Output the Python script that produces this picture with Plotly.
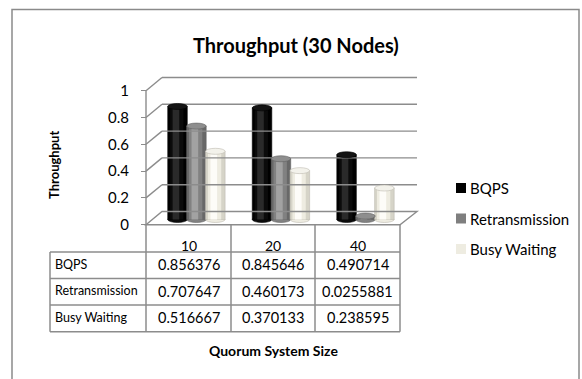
import plotly.graph_objects as go

# ---- data -------------------------------------------------------------
categories = ["10", "20", "40"]
series_names = ["BQPS", "Retransmission", "Busy Waiting"]
bqps = [0.856376, 0.845646, 0.490714]
retransmission = [0.707647, 0.460173, 0.0255881]
busy_waiting = [0.516667, 0.370133, 0.238595]
y_ticks = [0, 0.2, 0.4, 0.6, 0.8, 1]

series_values = [bqps, retransmission, busy_waiting]

# ---- styling ----------------------------------------------------------
W, H = 582, 379
FONT = "Lato"
GRID = "#8c8c8c"
swatch_colors = ["#000000", "#7f7f7f", "#eeece1"]
# cylinder shading: edge tone, mid tone, highlight
shade_colors = [
    ["#000000", "#0b0b0b", "#2a2a2a"],
    ["#686868", "#818181", "#a2a2a2"],
    ["#d6d4c8", "#eeece1", "#fdfcf8"],
]
shade_widths = [1.0, 0.68, 0.34]
top_colors = ["#141414", "#8e8e8e", "#f3f2eb"]
rim_colors = ["#000000", "#606060", "#bdbbb0"]

BAR_W = 0.231          # bar width in category units
BAR_STEP = 0.2237      # distance between neighbouring bars in a group
ELL = 3.0 / 132.0      # half-height of cylinder caps in value units
DEPTH = 0.0985         # back wall offset (front plane value units)

def px(x):
    return x / W

def py(y):
    return 1 - y / H

fig = go.Figure()

# cylinder bodies, drawn as nested strips for a rounded look
for k, (name, vals) in enumerate(zip(series_names, series_values)):
    for s, (frac, col) in enumerate(zip(shade_widths, shade_colors[k])):
        w = BAR_W * frac
        centre_shift = -0.12 * BAR_W * (1 - frac)
        fig.add_trace(go.Bar(
            x=categories, y=vals, name=name,
            width=w, offset=(k - 1) * BAR_STEP + centre_shift - w / 2,
            marker=dict(color=col,
                        line=dict(width=0.6 if s == 0 else 0, color=rim_colors[k])),
            showlegend=False, hoverinfo="skip" if s else None,
            xaxis="x", yaxis="y",
        ))

shapes = []

# back wall gridlines with their slanted connectors to the front axis
X_FRONT, X_BACK, X_RIGHT, X_FRONT_RIGHT = 146, 162, 417, 400
for t in y_ticks[1:]:
    shapes.append(dict(type="line", xref="x2", yref="y2", layer="below",
                       x0=X_FRONT, y0=t, x1=X_BACK, y1=t + DEPTH,
                       line=dict(color=GRID, width=1.4)))
    shapes.append(dict(type="line", xref="x2", yref="y2", layer="below",
                       x0=X_BACK, y0=t + DEPTH, x1=X_RIGHT, y1=t + DEPTH,
                       line=dict(color=GRID, width=1.4)))

# floor outline
shapes.append(dict(type="path", xref="x2", yref="y2", layer="below",
                   path=f"M{X_FRONT},0 L{X_BACK},{DEPTH} L{X_RIGHT},{DEPTH} L{X_FRONT_RIGHT},0 Z",
                   line=dict(color=GRID, width=1.4)))
# front vertical axis line
shapes.append(dict(type="line", xref="x2", yref="y2", layer="below",
                   x0=X_FRONT, y0=0, x1=X_FRONT, y1=1,
                   line=dict(color=GRID, width=1.4)))

# cylinder caps: rounded bottoms sit under the bodies, tops over them
for k, vals in enumerate(series_values):
    for i, v in enumerate(vals):
        c = i + (k - 1) * BAR_STEP
        shapes.append(dict(type="circle", xref="x", yref="y", layer="below",
                           x0=c - BAR_W / 2, x1=c + BAR_W / 2, y0=-ELL, y1=ELL,
                           fillcolor=shade_colors[k][1], line=dict(width=0.6, color=rim_colors[k])))
        shapes.append(dict(type="circle", xref="x", yref="y", layer="above",
                           x0=c - BAR_W / 2, x1=c + BAR_W / 2, y0=v - ELL, y1=v + ELL,
                           fillcolor=top_colors[k], line=dict(width=0.6, color=rim_colors[k])))

# ---- data table under the chart ---------------------------------------
col_edges = [50, 146, 231, 315, 400]
row_edges = [224.7, 252, 278.5, 305, 331.7]
line_tbl = dict(color=GRID, width=1.5)
for y in row_edges[1:]:
    shapes.append(dict(type="line", xref="paper", yref="paper",
                       x0=px(col_edges[0]), x1=px(col_edges[-1]), y0=py(y), y1=py(y), line=line_tbl))
shapes.append(dict(type="line", xref="paper", yref="paper",
                   x0=px(col_edges[0]), x1=px(col_edges[0]), y0=py(row_edges[1]), y1=py(row_edges[-1]),
                   line=line_tbl))
for x in col_edges[1:]:
    shapes.append(dict(type="line", xref="paper", yref="paper",
                       x0=px(x), x1=px(x), y0=py(row_edges[0]), y1=py(row_edges[-1]), line=line_tbl))

# outer chart frame
shapes.append(dict(type="rect", xref="paper", yref="paper",
                   x0=px(12), x1=px(579), y0=py(9.5), y1=py(395),
                   line=dict(color="#8a8a8a", width=1.5)))

annotations = []
col_centers = [(col_edges[j] + col_edges[j + 1]) / 2 for j in range(1, 4)]
for j, cat in enumerate(categories):
    annotations.append(dict(text=cat, x=px(col_centers[j]), y=py(245), xref="paper", yref="paper",
                            showarrow=False, xanchor="center", yanchor="middle",
                            font=dict(family=FONT, size=14, color="black")))
row_centers = [(row_edges[r] + row_edges[r + 1]) / 2 for r in range(1, 4)]
for r, (name, vals) in enumerate(zip(series_names, series_values)):
    annotations.append(dict(text=name, x=px(53), y=py(row_centers[r] - 1), xref="paper", yref="paper",
                            showarrow=False, xanchor="left", yanchor="middle",
                            font=dict(family=FONT, size=12.5, color="black")))
    for j, v in enumerate(vals):
        annotations.append(dict(text=str(v), x=px(col_centers[j]), y=py(row_centers[r] - 0.5),
                                xref="paper", yref="paper", showarrow=False,
                                xanchor="center", yanchor="middle",
                                font=dict(family=FONT, size=14.5, color="black")))

# legend
legend_rows = [188, 218.5, 249]
for k, name in enumerate(series_names):
    yc = legend_rows[k]
    shapes.append(dict(type="rect", xref="paper", yref="paper",
                       x0=px(456), x1=px(466), y0=py(yc - 5), y1=py(yc + 5),
                       fillcolor=swatch_colors[k], line=dict(width=0)))
    annotations.append(dict(text=name, x=px(467.5), y=py(yc), xref="paper", yref="paper",
                            showarrow=False, xanchor="left", yanchor="middle",
                            font=dict(family=FONT, size=15, color="black")))

# titles
annotations.append(dict(text="<b>Throughput (30 Nodes)</b>", x=px(296), y=py(45),
                        xref="paper", yref="paper", showarrow=False,
                        xanchor="center", yanchor="middle",
                        font=dict(family=FONT, size=20, color="black")))
annotations.append(dict(text="<b>Throughput</b>", x=px(54), y=py(165), textangle=-90,
                        xref="paper", yref="paper", showarrow=False,
                        xanchor="center", yanchor="middle",
                        font=dict(family=FONT, size=13, color="black")))
annotations.append(dict(text="<b>Quorum System Size</b>", x=px(273), y=py(350),
                        xref="paper", yref="paper", showarrow=False,
                        xanchor="center", yanchor="middle",
                        font=dict(family=FONT, size=14, color="black")))

# bar axes (mid-depth plane): value 0 at y=219.5px, 132 px per unit
BAR_RANGE = [-0.12, 1.12]
bar_dom = [py(219.5 + 0.12 * 132), py(219.5 - 1.12 * 132)]
# front plane axes: value 0 at y=224.7px, 134 px per unit
front_dom = [py(224.7 + 0.12 * 134), py(224.7 - 1.12 * 134)]

fig.update_layout(
    width=W, height=H,
    margin=dict(l=0, r=0, t=0, b=0),
    paper_bgcolor="white", plot_bgcolor="rgba(0,0,0,0)",
    barmode="overlay",
    showlegend=False,
    shapes=shapes, annotations=annotations,
    xaxis=dict(domain=[px(196.4 - 42.25), px(365.5 + 42.25)], range=[-0.5, 2.5],
               type="category", visible=False, anchor="y"),
    yaxis=dict(domain=bar_dom, range=BAR_RANGE, visible=False, anchor="x"),
    xaxis2=dict(domain=[0, 1], range=[0, W], visible=False, anchor="y2"),
    yaxis2=dict(domain=front_dom, range=BAR_RANGE, anchor="free", position=px(X_FRONT),
                tickvals=y_ticks, ticks="outside", ticklen=5, tickcolor=GRID,
                showgrid=False, zeroline=False, showline=False,
                ticklabelstandoff=9,
                tickfont=dict(family=FONT, size=15, color="black")),
)

fig.write_html("out.html")
